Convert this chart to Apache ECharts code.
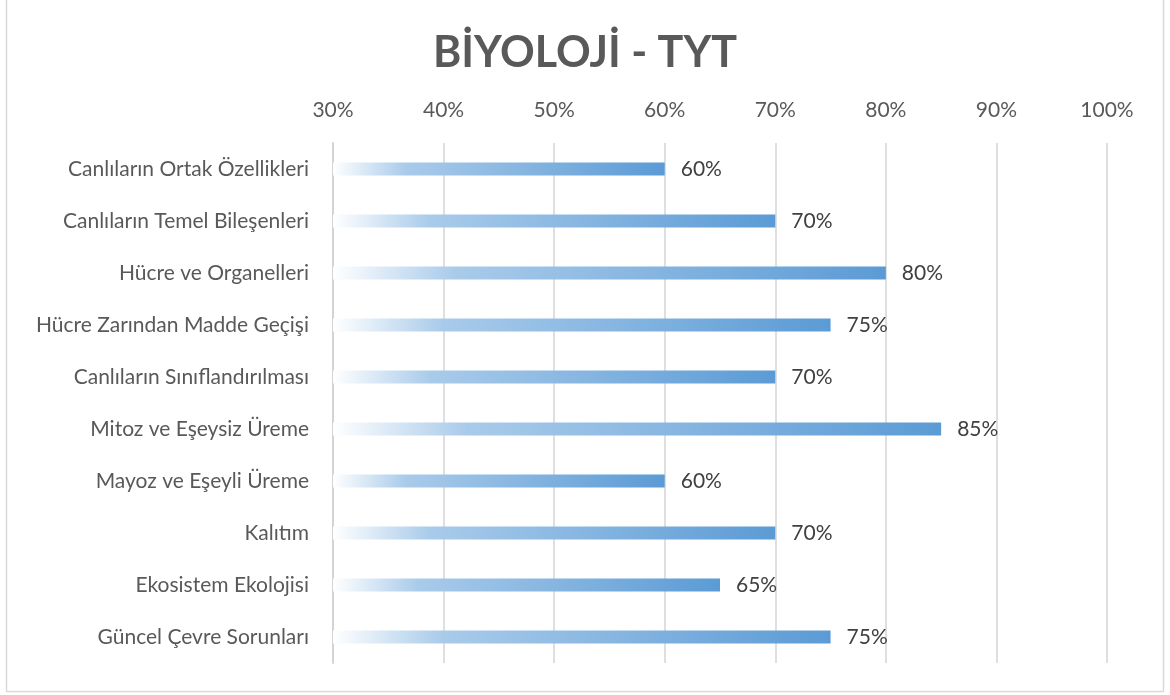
<!DOCTYPE html>
<html>
<head>
<meta charset="utf-8">
<script src="https://cdn.jsdelivr.net/npm/echarts@6/dist/echarts.min.js"></script>
<style>
  html, body { margin: 0; padding: 0; background: #fff; }
  #main { width: 1170px; height: 695px; }
</style>
</head>
<body>
<div id="main"></div>
<script>
// konular ve yüzdeler
var categories = [
    'Canlıların Ortak Özellikleri',
    'Canlıların Temel Bileşenleri',
    'Hücre ve Organelleri',
    'Hücre Zarından Madde Geçişi',
    'Canlıların Sınıflandırılması',
    'Mitoz ve Eşeysiz Üreme',
    'Mayoz ve Eşeyli Üreme',
    'Kalıtım',
    'Ekosistem Ekolojisi',
    'Güncel Çevre Sorunları'
];
var values = [60, 70, 80, 75, 70, 85, 60, 70, 65, 75];
var axisMin = 30, axisMax = 100, axisStep = 10;

var myChart = echarts.init(document.getElementById('main'));

var barColor = new echarts.graphic.LinearGradient(0, 0, 1, 0, [
    {offset: 0, color: '#ffffff'},
    {offset: 0.22, color: '#a9cbea'},
    {offset: 1, color: '#5b9bd5'}
]);

var fontFamily = 'Lato, "Open Sans", sans-serif';

option = {
    animation: false,
    backgroundColor: '#fff',
    title: {
        text: 'BİYOLOJİ - TYT',
        left: 'center',
        top: 27,
        textStyle: {
            fontFamily: fontFamily,
            fontSize: 43,
            fontWeight: 'bold',
            color: '#595959'
        }
    },
    graphic: [{
        type: 'rect',
        shape: {x: 6.5, y: -1, width: 1157, height: 692.5},
        style: {fill: 'none', stroke: '#d9d9d9', lineWidth: 1.5},
        silent: true
    }],
    grid: {
        left: 333,
        right: 63,
        top: 143,
        bottom: 32,
        containLabel: false
    },
    xAxis: {
        type: 'value',
        position: 'top',
        min: axisMin,
        max: axisMax,
        interval: axisStep,
        axisLine: {show: false},
        axisTick: {show: false},
        axisLabel: {
            formatter: '{value}%',
            margin: 22,
            fontFamily: fontFamily,
            fontSize: 21,
            color: '#595959'
        },
        splitLine: {
            lineStyle: {color: '#d4d4d4', width: 1.5}
        }
    },
    yAxis: {
        type: 'category',
        inverse: true,
        data: categories,
        axisLine: {
            show: true,
            lineStyle: {color: '#d4d4d4', width: 2}
        },
        axisTick: {show: false},
        axisLabel: {
            margin: 24,
            fontFamily: fontFamily,
            fontSize: 21,
            color: '#595959'
        }
    },
    series: [{
        type: 'bar',
        data: values,
        barWidth: 13,
        itemStyle: {color: barColor},
        label: {
            show: true,
            position: 'right',
            distance: 16,
            formatter: '{c}%',
            fontFamily: fontFamily,
            fontSize: 21,
            color: '#404040'
        }
    }]
};

myChart.setOption(option);
</script>
</body>
</html>
